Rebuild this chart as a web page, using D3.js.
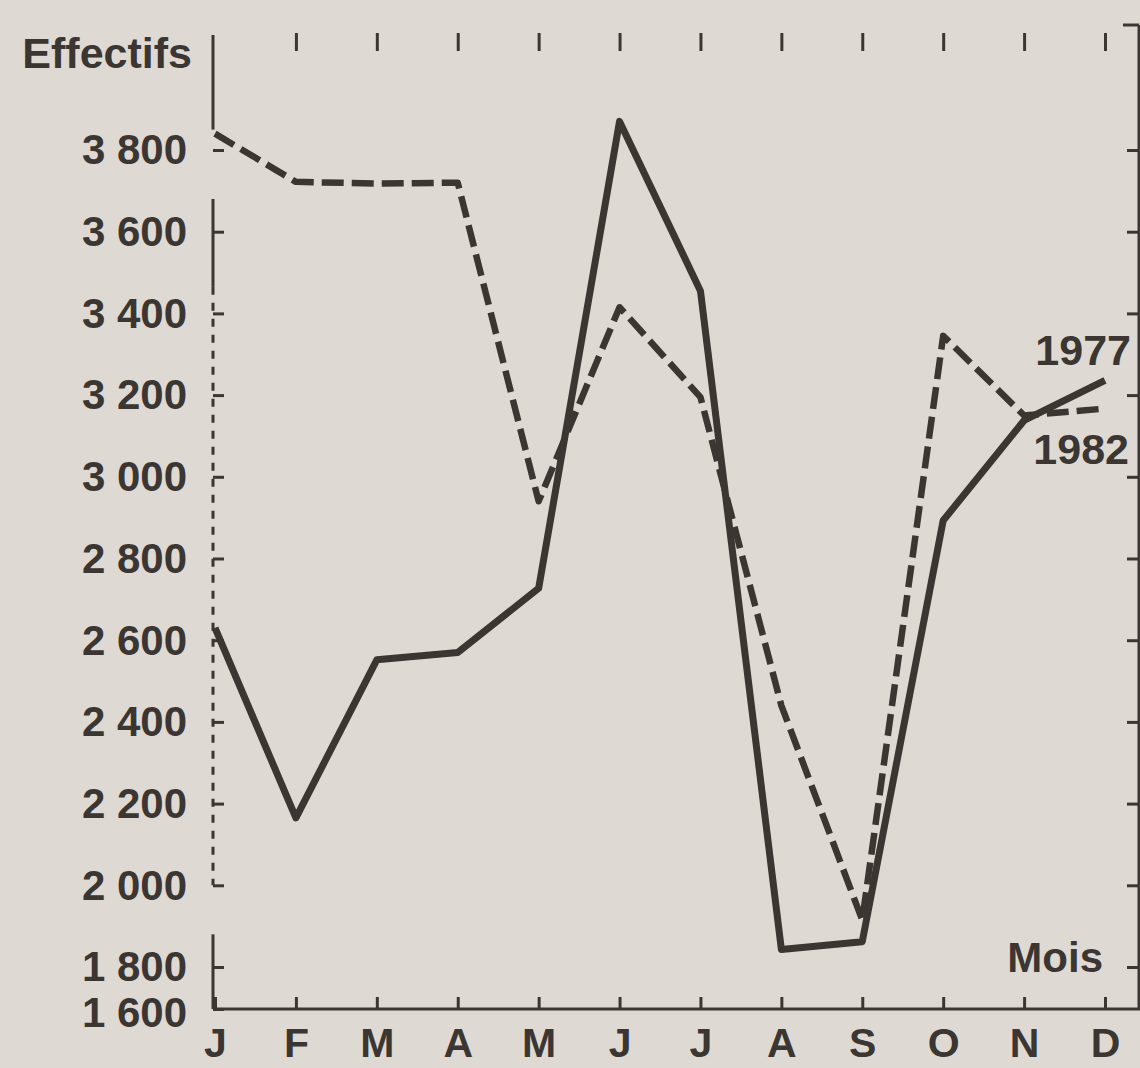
<!DOCTYPE html>
<html>
<head>
  <title>Effectifs par mois</title>
  <script src="https://d3js.org/d3.v7.min.js"></script>
  <style>
    body { margin: 0; background: #dedad3; }
    svg { display: block; }
    text {
      font-family: "Liberation Sans", Arial, sans-serif;
      font-weight: bold;
      fill: #3b3632;
    }
    .axis line { stroke: #3b3632; stroke-width: 3px; }
    .axis path { display: none; }
    .frame { stroke: #3b3632; stroke-width: 3px; fill: none; }
  </style>
</head>
<body>
  <div id="chart"></div>

  <script>
    // Data
    const months = ["J", "F", "M", "A", "M", "J", "J", "A", "S", "O", "N", "D"];
    const values1977 = [2630, 2165, 2552, 2570, 2727, 3870, 3455, 1843, 1862, 2893, 3138, 3236];
    const values1982 = [3840, 3722, 3718, 3720, 2940, 3415, 3195, 2440, 1915, 3345, 3150, 3167];
    const yTicks = [1600, 1800, 2000, 2200, 2400, 2600, 2800, 3000, 3200, 3400, 3600, 3800];

    const margin = { top: 25, right: 1, bottom: 59, left: 213 };
    const width = 1140 - margin.left - margin.right;
    const height = 1068 - margin.top - margin.bottom;

    const svg = d3.select("#chart")
      .append("svg")
        .attr("width", width + margin.left + margin.right)
        .attr("height", height + margin.top + margin.bottom)
      .append("g")
        .attr("transform", `translate(${margin.left}, ${margin.top})`);

    // x: month index, y: broken axis (1600 squeezed against the baseline)
    const xScale = d3.scaleLinear().domain([0, 11]).range([2, 892]);
    const yScale = d3.scaleLinear().domain([1600, 1800, 3800]).range([height, height - 42, 125]);

    const fmt = d => d3.format(",")(d).replace(",", " ");

    // Bottom axis with month letters
    const xAxis = d3.axisBottom(xScale)
      .tickValues(d3.range(12))
      .tickSize(-12)
      .tickSizeOuter(0)
      .tickPadding(19)
      .tickFormat(i => months[i]);

    svg.append("g")
      .attr("class", "x axis")
      .attr("transform", `translate(0, ${height})`)
      .call(xAxis)
      .selectAll("text")
        .style("font-size", "41px");

    svg.append("line")
      .attr("class", "frame")
      .attr("x1", 0).attr("x2", width + 1)
      .attr("y1", height).attr("y2", height);

    // Top ticks (the top border itself barely printed)
    svg.append("g")
      .attr("class", "x axis top")
      .attr("transform", "translate(0, 8)")
      .call(d3.axisBottom(xScale).tickValues(d3.range(1, 12)).tickSize(18).tickSizeOuter(0).tickFormat(""));

    // Left axis
    const yAxis = d3.axisLeft(yScale)
      .tickValues(yTicks)
      .tickSize(-11)
      .tickSizeOuter(0)
      .tickPadding(26)
      .tickFormat(fmt);

    svg.append("g")
      .attr("class", "y axis")
      .call(yAxis)
      .selectAll("text")
        .style("font-size", "42px")
        .attr("dy", d => d === 1600 ? "0.42em" : "0.33em");

    // Left axis line, printed broken: solid pieces and a dotted middle
    const leftSegments = [
      { y1: 10, y2: yScale(3850), dash: null },
      { y1: yScale(3680), y2: yScale(3465), dash: null },
      { y1: yScale(3465), y2: yScale(2000), dash: "8,8" },
      { y1: yScale(1880), y2: height, dash: null }
    ];
    svg.selectAll(".left-seg")
      .data(leftSegments)
      .join("line")
        .attr("class", "frame left-seg")
        .attr("x1", 0).attr("x2", 0)
        .attr("y1", d => d.y1).attr("y2", d => d.y2)
        .style("stroke-dasharray", d => d.dash);

    // Right axis, ticks pointing inward
    svg.append("g")
      .attr("class", "y axis right")
      .attr("transform", `translate(${width}, 0)`)
      .call(d3.axisLeft(yScale).tickValues(yTicks.slice(1)).tickSize(12).tickSizeOuter(0).tickFormat(""));

    svg.append("line")
      .attr("class", "frame")
      .attr("x1", width).attr("x2", width)
      .attr("y1", 0).attr("y2", height);

    svg.append("line")
      .attr("class", "frame")
      .attr("x1", width - 16).attr("x2", width)
      .attr("y1", 0).attr("y2", 0);

    // Axis titles
    svg.append("text")
      .attr("text-anchor", "end")
      .attr("x", -21)
      .attr("y", 43)
      .style("font-size", "43px")
      .text("Effectifs");

    svg.append("text")
      .attr("text-anchor", "end")
      .attr("x", width - 36)
      .attr("y", 947)
      .style("font-size", "42px")
      .text("Mois");

    // Lines
    const line = d3.line()
      .x((d, i) => xScale(i))
      .y(d => yScale(d));

    svg.append("path")
      .datum(values1982)
      .attr("fill", "none")
      .attr("stroke", "#3b3632")
      .attr("stroke-width", 6.5)
      .attr("stroke-linejoin", "round")
      .attr("stroke-dasharray", "22,8")
      .attr("d", line);

    svg.append("path")
      .datum(values1977)
      .attr("fill", "none")
      .attr("stroke", "#3b3632")
      .attr("stroke-width", 7)
      .attr("stroke-linejoin", "round")
      .attr("d", line);

    // Series labels
    svg.append("text")
      .attr("text-anchor", "end")
      .attr("x", width - 8)
      .attr("y", yScale(values1977[11]) - 15)
      .style("font-size", "43px")
      .text("1977");

    svg.append("text")
      .attr("text-anchor", "end")
      .attr("x", width - 10)
      .attr("y", yScale(values1982[11]) + 55)
      .style("font-size", "43px")
      .text("1982");
  </script>
</body>
</html>
